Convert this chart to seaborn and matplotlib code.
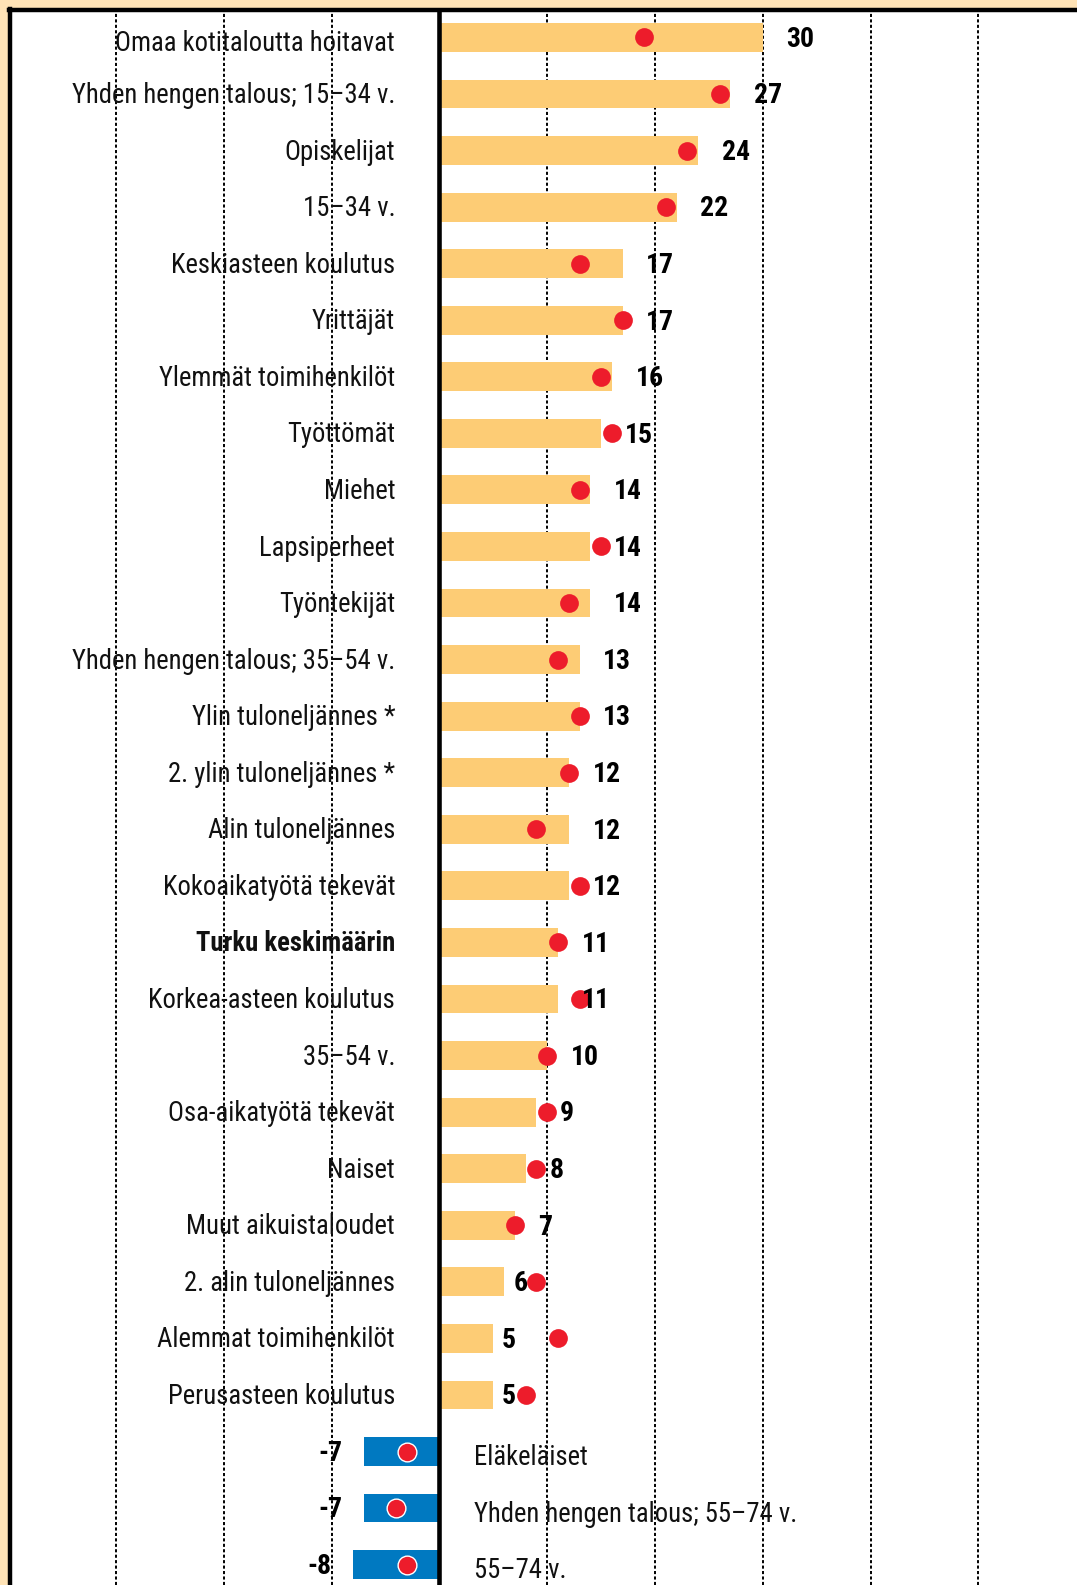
import matplotlib
matplotlib.use("Agg")
import matplotlib.pyplot as plt
from matplotlib import font_manager as fm
import seaborn as sns
import pandas as pd

categories = [
    "Omaa kotitaloutta hoitavat", "Yhden hengen talous; 15–34 v.", "Opiskelijat",
    "15–34 v.", "Keskiasteen koulutus", "Yrittäjät", "Ylemmät toimihenkilöt",
    "Työttömät", "Miehet", "Lapsiperheet", "Työntekijät",
    "Yhden hengen talous; 35–54 v.", "Ylin tuloneljännes *", "2. ylin tuloneljännes *",
    "Alin tuloneljännes", "Kokoaikatyötä tekevät", "Turku keskimäärin",
    "Korkea-asteen koulutus", "35–54 v.", "Osa-aikatyötä tekevät", "Naiset",
    "Muut aikuistaloudet", "2. alin tuloneljännes", "Alemmat toimihenkilöt",
    "Perusasteen koulutus", "Eläkeläiset", "Yhden hengen talous; 55–74 v.", "55–74 v.",
]
bar_values = [30, 27, 24, 22, 17, 17, 16, 15, 14, 14, 14, 13, 13, 12, 12, 12, 11,
              11, 10, 9, 8, 7, 6, 5, 5, -7, -7, -8]
dot_values = [19, 26, 23, 21, 13, 17, 15, 16, 13, 15, 12, 11, 13, 12, 9, 13, 11,
              13, 10, 10, 9, 7, 9, 11, 8, -3, -4, -3]
highlight = ["Turku keskimäärin"]

# ---- fonts ----
names = {f.name for f in fm.fontManager.ttflist}
narrow = None
for cand in ["Roboto Condensed", "Liberation Sans Narrow", "Open Sans Condensed"]:
    if cand in names:
        narrow = dict(family=cand)
        break
if narrow is None:
    if any(f.name == "DejaVu Sans" and f.stretch == "condensed" for f in fm.fontManager.ttflist):
        narrow = dict(family="DejaVu Sans", stretch="condensed")
    else:
        narrow = dict(family="DejaVu Sans")

sns.set_theme(style="white")
plt.rcParams["font.family"] = [narrow["family"], "DejaVu Sans"]

ORANGE = "#FDCC75"
BLUE = "#0079C1"
RED = "#ED1C2B"
BG = "#FFE3B6"

df = pd.DataFrame({"cat": categories, "val": bar_values, "dot": dot_values})
df["sign"] = ["pos" if v >= 0 else "neg" for v in df["val"]]

W, H = 1077, 1585
fig = plt.figure(figsize=(W / 100, H / 100), dpi=100, facecolor=BG)
left = 9.5 / W
top_px = 9.5
ax = fig.add_axes([left, 0, 1 - left, (H - top_px) / H])
ax.set_facecolor("white")

# gridlines behind bars
for gx in [-30, -20, -10, 10, 20, 30, 40, 50]:
    ax.axvline(gx, color="black", lw=1.4, dashes=(1.6, 1.2), zorder=0.5)

sns.barplot(data=df, x="val", y="cat", hue="sign", order=categories,
            palette={"pos": ORANGE, "neg": BLUE}, dodge=False, width=0.51,
            saturation=1, legend=False, ax=ax, zorder=1, linewidth=0)

pos_df = df[df["val"] >= 0]
neg_df = df[df["val"] < 0]
sns.stripplot(data=pos_df, x="dot", y="cat", order=categories, jitter=False,
              color=RED, size=13.5, linewidth=0, ax=ax, zorder=3)
sns.stripplot(data=neg_df, x="dot", y="cat", order=categories, jitter=False,
              color=RED, size=13.5, linewidth=1.0, edgecolor="white", ax=ax, zorder=3)

ax.axvline(0, color="black", lw=3.3, zorder=4)

# labels
nudge = {22: 0.92, 23: 0.78, 24: 0.78}
fs_cat = 19.2
fs_val = 20
for i, (c, v) in enumerate(zip(categories, bar_values)):
    wt = "bold" if c in highlight else "normal"
    if v >= 0:
        dy = 0.235 if i == 0 else 0.16
        ax.text(-4.1, i + dy, c, ha="right", va="baseline", fontsize=fs_cat,
                fontweight=wt, color="#111111", zorder=5, **narrow)
        off = nudge.get(i, 2.2)
        ax.text(v + off, i + 0.165, f"{v}", ha="left", va="baseline", fontsize=fs_val,
                fontweight="bold", color="black", zorder=5, **narrow)
    else:
        ax.text(3.25, i + 0.24, c, ha="left", va="baseline", fontsize=fs_cat,
                fontweight=wt, color="#111111", zorder=5, **narrow)
        ax.text(v - 2.0, i + 0.165, f"{v}", ha="right", va="baseline", fontsize=fs_val,
                fontweight="bold", color="black", zorder=5, **narrow)

ax.set_xlim(-39.88, 59.15)
ax.set_ylim(27.36, -0.493)
ax.set_xlabel("")
ax.set_ylabel("")
ax.set_xticks([])
ax.set_yticks([])
for s in ["right", "bottom"]:
    ax.spines[s].set_visible(False)
for s in ["left", "top"]:
    ax.spines[s].set_visible(True)
    ax.spines[s].set_color("black")
    ax.spines[s].set_linewidth(3.2)
    ax.spines[s].set_zorder(6)

fig.savefig("out.png", dpi=100, facecolor=BG)
